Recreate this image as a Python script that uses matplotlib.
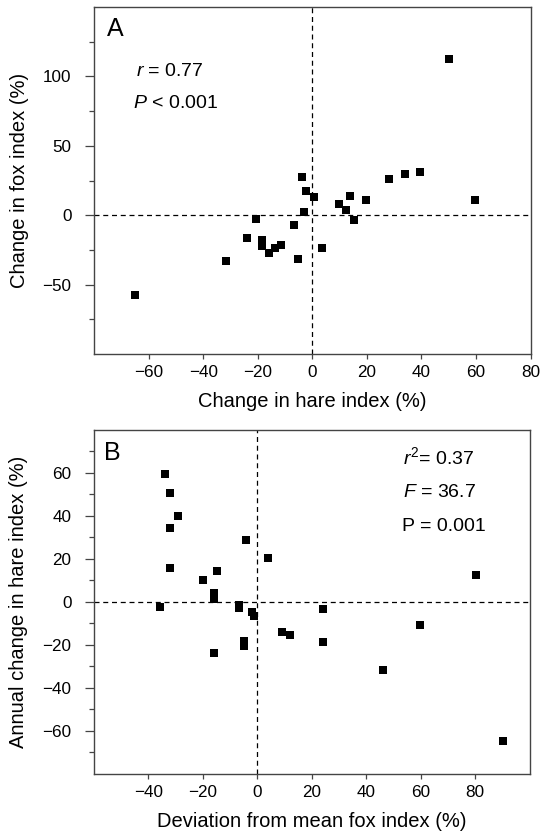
import matplotlib
matplotlib.use("Agg")
import matplotlib.pyplot as plt
from matplotlib.ticker import FixedLocator

plt.rcParams['font.family'] = ['Liberation Sans', 'DejaVu Sans']
plt.rcParams['mathtext.fontset'] = 'custom'
plt.rcParams['mathtext.rm'] = 'Liberation Sans'
plt.rcParams['mathtext.it'] = 'Liberation Sans:italic'

# Panel A data
hare_change = [50.1, -64.8, -31.6, -23.8, -20.8, -18.5, -18.5, -15.8, -13.7, -11.6,
               -6.8, -5.2, -3.8, -2.2, -3.0, 0.6, 3.6, 9.7, 12.2, 13.9,
               15.2, 19.8, 28.1, 33.9, 39.3, 59.5]
fox_change = [112.5, -57.8, -33.2, -16.6, -2.9, -18.1, -22.2, -27.0, -23.4, -21.7,
              -6.7, -31.8, 27.2, 17.1, 2.4, 13.2, -23.4, 8.2, 4.1, 14.0,
              -3.6, 11.1, 25.8, 29.4, 31.1, 11.1]

# Panel B data
fox_deviation = [-33.9, -31.9, -29.0, -31.9, -31.9, -35.9, -4.0, 4.0, -15.0, -19.9,
                 -15.9, -15.9, -15.9, -6.8, -6.8, -1.8, -1.1, -4.9, -4.9, 9.0,
                 12.0, 24.0, 24.0, 46.0, 59.8, 80.1, 90.0]
hare_annual = [59.7, 50.9, 40.0, 34.3, 15.7, -2.5, 29.0, 20.6, 14.3, 10.2,
               4.3, 1.2, -23.6, -1.5, -3.0, -4.5, -6.4, -18.1, -20.5, -13.8,
               -15.3, -3.1, -18.4, -31.6, -10.9, 12.6, -64.7]

A_xticks = [-60, -40, -20, 0, 20, 40, 60, 80]
A_yticks = [-50, 0, 50, 100]
A_yminor = [-75, -25, 25, 75, 125]
B_xticks = [-40, -20, 0, 20, 40, 60, 80]
B_yticks = [-60, -40, -20, 0, 20, 40, 60]
B_yminor = [-70, -50, -30, -10, 10, 30, 50, 70]

fig = plt.figure(figsize=(5.4, 8.35), dpi=100)
axA = fig.add_axes([0.174, 0.576, 0.8087, 0.4156])
axB = fig.add_axes([0.174, 0.0731, 0.807, 0.412])

spine_col = '#444444'
dash = (0, (4, 3))

def style(ax, xt, yt, ymin):
    for s in ax.spines.values():
        s.set_color(spine_col)
        s.set_linewidth(1.0)
    ax.xaxis.set_major_locator(FixedLocator(xt))
    ax.yaxis.set_major_locator(FixedLocator(yt))
    ax.yaxis.set_minor_locator(FixedLocator(ymin))
    ax.tick_params(axis='x', which='major', length=3.3, width=0.9, color=spine_col,
                   labelsize=12.3, pad=4.5)
    ax.tick_params(axis='y', which='major', length=6.7, width=0.9, color=spine_col,
                   labelsize=12.3, pad=9.5)
    ax.tick_params(axis='y', which='minor', length=3.6, width=0.9, color=spine_col)
    ax.axhline(0, color='black', lw=0.9, linestyle=dash, zorder=1)
    ax.axvline(0, color='black', lw=0.9, linestyle=dash, zorder=1)

# Panel A
axA.plot(hare_change, fox_change, linestyle='none', marker='s', markersize=5.3,
         color='black', markeredgewidth=0, zorder=3)
axA.set_xlim(-80, 80)
axA.set_ylim(-100, 150)
style(axA, A_xticks, A_yticks, A_yminor)
axA.set_xlabel('Change in hare index (%)', fontsize=14.5, labelpad=9)
axA.set_ylabel('Change in fox index (%)', fontsize=14.5, labelpad=10)
axA.text(0.029, 0.937, 'A', transform=axA.transAxes, fontsize=18, va='center', ha='left')
axA.text(0.0955, 0.8135, r'$r$ = 0.77', transform=axA.transAxes, fontsize=14,
         va='center', ha='left')
axA.text(0.0886, 0.7225, r'$P$ < 0.001', transform=axA.transAxes, fontsize=14,
         va='center', ha='left')

# Panel B
axB.plot(fox_deviation, hare_annual, linestyle='none', marker='s', markersize=5.3,
         color='black', markeredgewidth=0, zorder=3)
axB.set_xlim(-60, 100)
axB.set_ylim(-80, 80)
style(axB, B_xticks, B_yticks, B_yminor)
axB.set_xlabel('Deviation from mean fox index (%)', fontsize=14.5, labelpad=9)
axB.set_ylabel('Annual change in hare index (%)', fontsize=14.5, labelpad=10)
axB.text(0.023, 0.932, 'B', transform=axB.transAxes, fontsize=18, va='center', ha='left')
axB.text(0.7094, 0.922, r'$r^2$= 0.37', transform=axB.transAxes, fontsize=14,
         va='center', ha='left')
axB.text(0.7094, 0.8188, r'$F$ = 36.7', transform=axB.transAxes, fontsize=14,
         va='center', ha='left')
axB.text(0.708, 0.719, 'P = 0.001', transform=axB.transAxes, fontsize=14,
         va='center', ha='left')

fig.savefig('out.png', dpi=100)
